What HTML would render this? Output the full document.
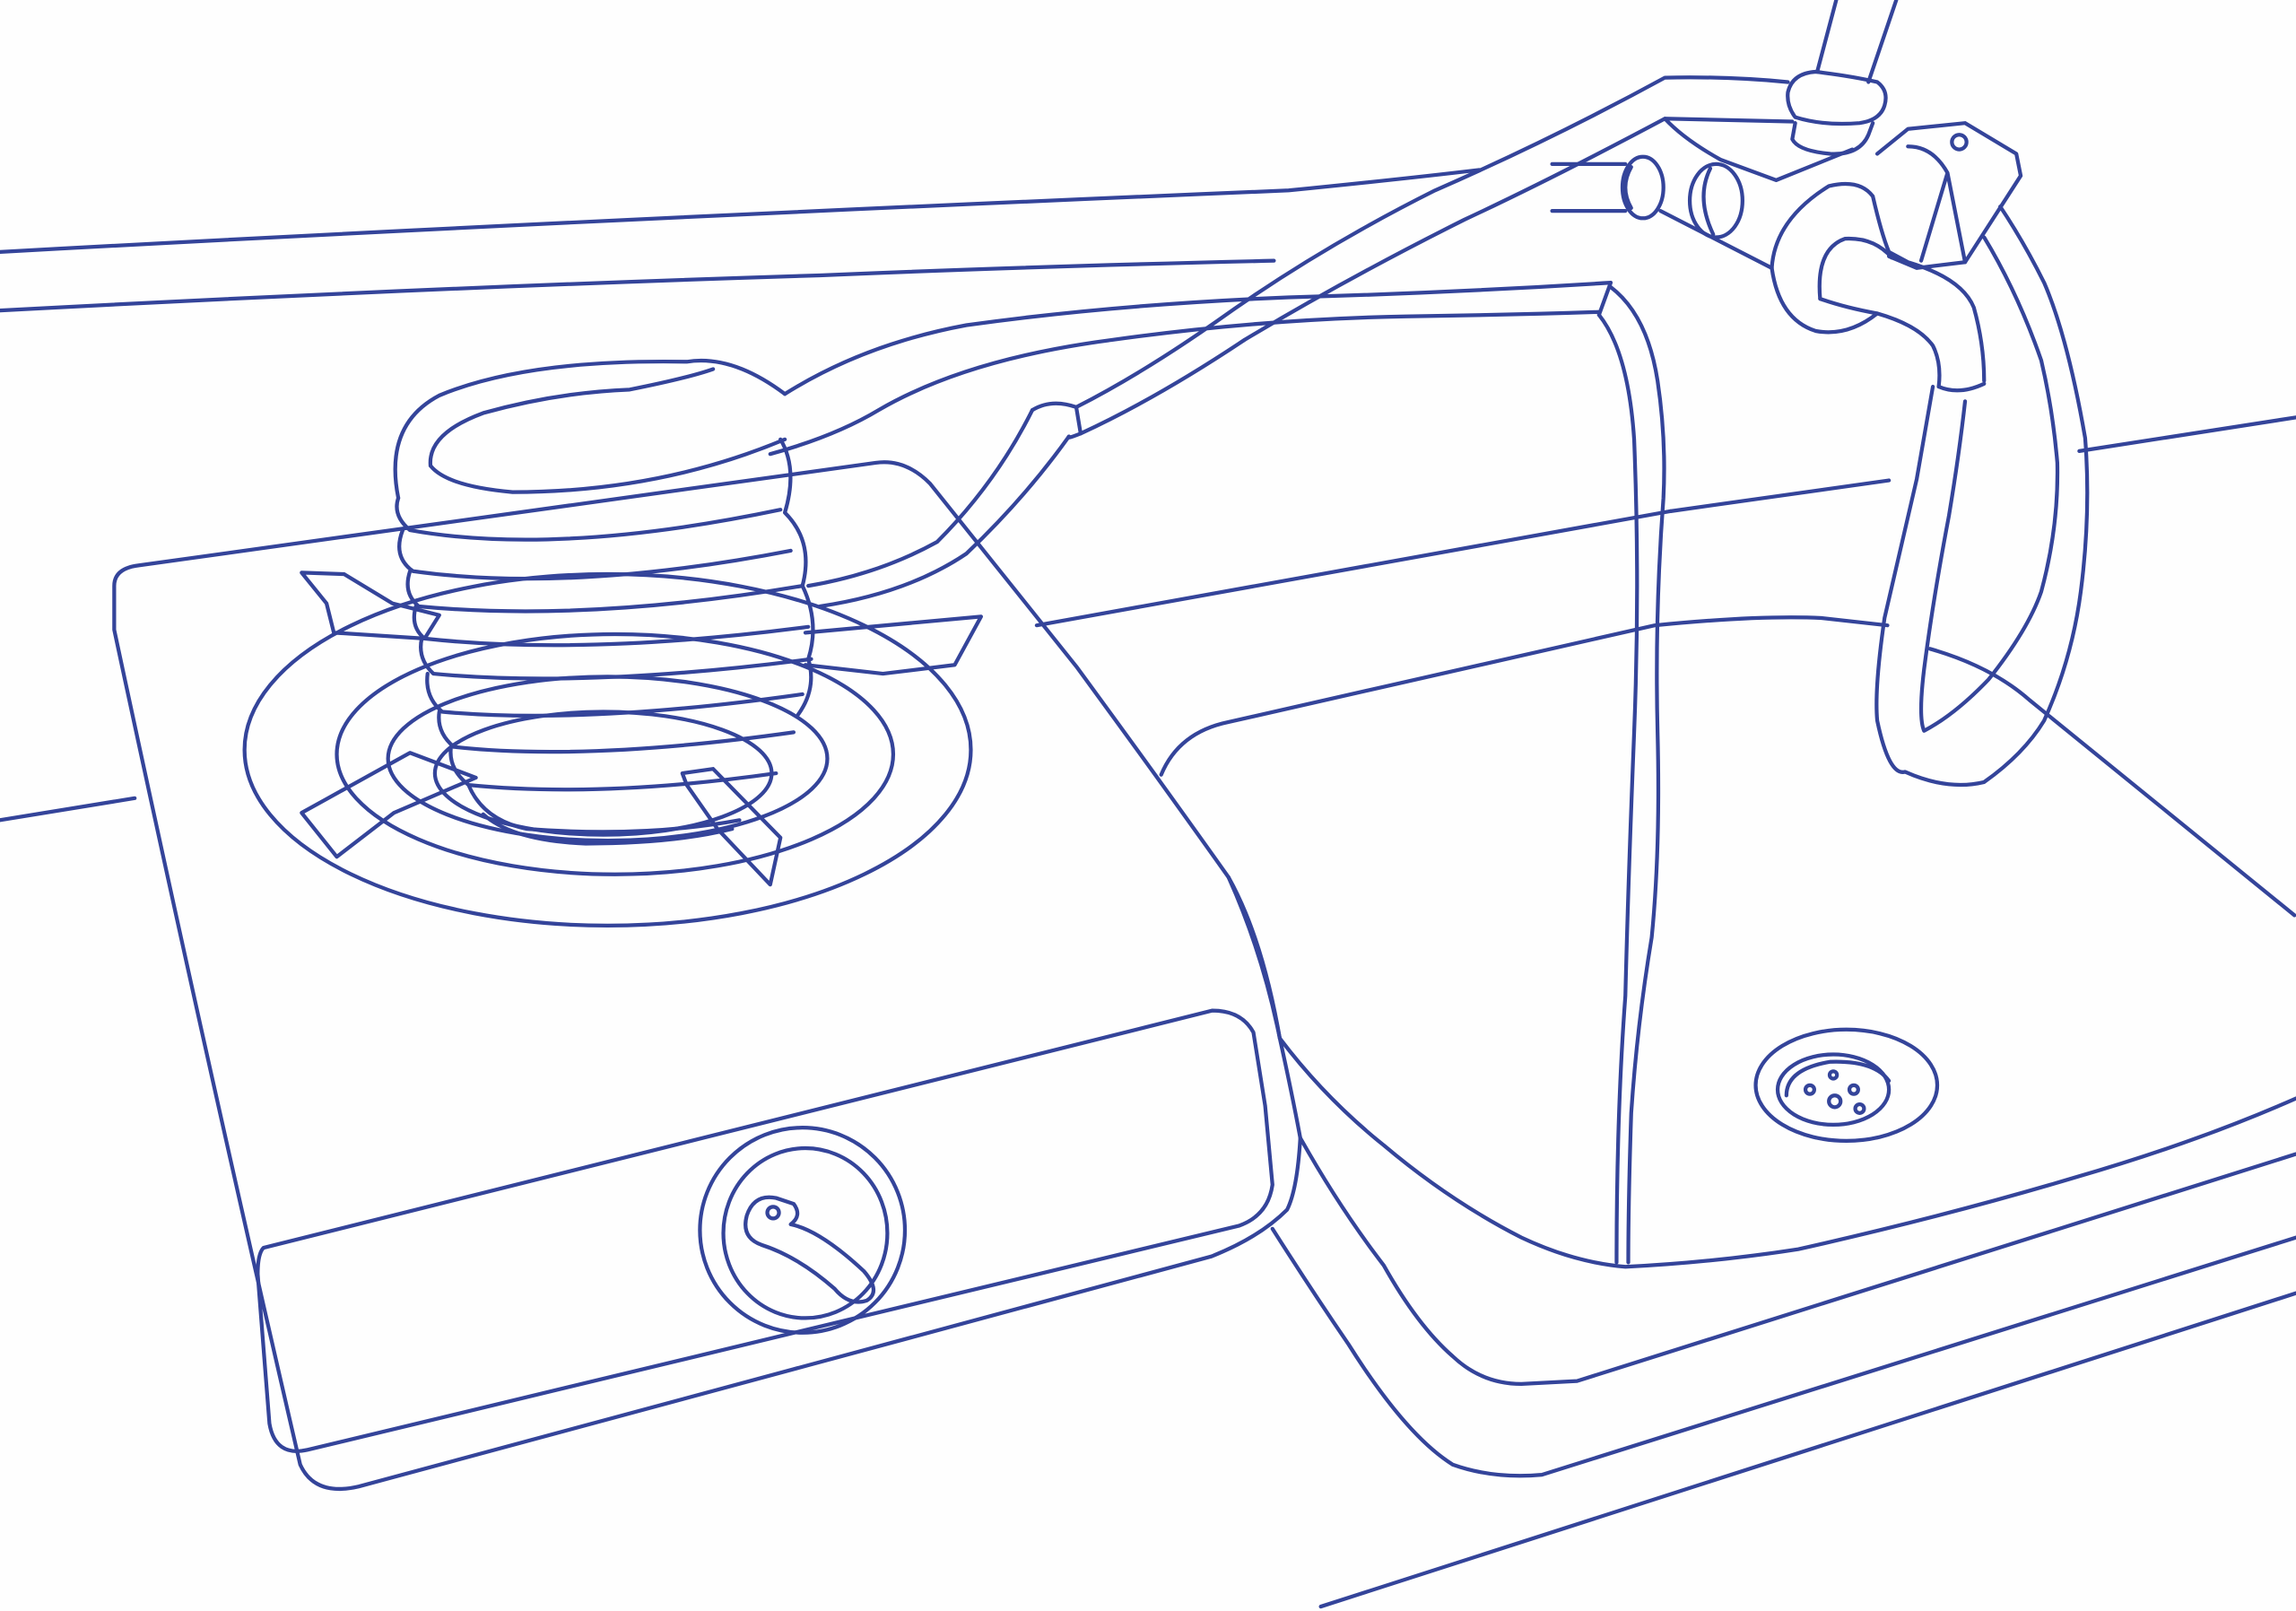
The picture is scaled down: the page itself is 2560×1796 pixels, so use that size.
<!DOCTYPE html>
<html><head><meta charset="utf-8"><style>
html,body{margin:0;padding:0;background:#fff}
svg{display:block}
</style></head><body>
<svg width="2560" height="1796" viewBox="0 0 1568 1100" xmlns="http://www.w3.org/2000/svg">
<rect width="1568" height="1100" fill="#fefefe"/>
<g fill="none" stroke="#34449a" stroke-width="2.6" stroke-linecap="round" stroke-linejoin="round">
<!-- wall / counter lines -->
<path d="M0,172 Q400,150 880,130 Q960,122 1010,116"/>
<path d="M0,212 Q300,196 560,188 Q700,182 870,178"/>
<path d="M0,560 L92,545"/>
<path d="M708,427 L1141,349"/>
<path d="M1141,349 L1290,328"/>
<path d="M1420,308 L1568,285"/>
<!-- stove body -->
<path d="M78,400 Q78,388 95,386 L598,316 Q618,313 635,330 L735,455 Q790,530 839,599 Q862,640 874,709 Q882,745 888,777 Q886,812 879,826 Q860,845 827,858 L245,1015 Q215,1022 205,1000 Q140,720 78,430 Z"/>
<!-- front panel -->
<path d="M180,852 L828,690 Q848,690 856,705 L864,755 L869,809 Q866,830 846,837 L210,990 Q188,995 184,972 L176,870 Q176,856 180,852 Z"/>
<!-- knob -->
<ellipse cx="548" cy="840" rx="70" ry="70"/>
<ellipse cx="550" cy="842" rx="56" ry="58"/>
<path d="M510,830 Q515,815 530,818 L542,822 Q548,830 540,836 Q560,840 590,868 Q602,882 592,888 Q580,892 570,880 Q545,858 520,850 Q506,845 510,830 Z"/>
<circle cx="528" cy="828" r="4"/>
<!-- burner -->
<ellipse cx="415" cy="512" rx="248" ry="120"/>
<ellipse cx="420" cy="515" rx="190" ry="82"/>
<ellipse cx="415" cy="518" rx="150" ry="56"/>
<ellipse cx="412" cy="528" rx="115" ry="42"/>
<!-- grates -->
<path d="M206,391 L235,392 L268,412 L300,420 L290,436 L228,432 L223,412 Z"/>
<path d="M550,432 L670,421 L652,454 L603,460 L550,454"/>
<path d="M206,555 L280,514 L325,531 L269,555 L230,585 Z"/>
<path d="M466,528 L487,525 L533,572 L526,604 L490,566 L469,536 Z"/>
<!-- coil stack -->
<path d="M272,340 Q262,290 300,270 Q360,245 469,247 Q500,242 536,269"/>
<path d="M294,318 Q292,296 330,282 Q380,268 430,266 Q470,258 487,252"/>
<path d="M294,318 Q305,332 350,336 Q450,336 536,300"/>
<path d="M272,340 Q268,352 280,362 Q380,380 533,348"/>
<path d="M275,362 Q268,380 282,390 Q390,405 540,376"/>
<path d="M280,390 Q275,405 286,414 Q400,425 548,400"/>
<path d="M284,414 Q280,428 290,436 Q400,448 552,428"/>
<path d="M288,436 Q285,450 296,460 Q400,470 554,450"/>
<path d="M292,460 Q290,476 302,486 Q400,495 548,474"/>
<path d="M300,486 Q298,500 310,510 Q400,520 542,500"/>
<path d="M308,510 Q306,525 320,536 Q410,545 530,528"/>
<path d="M320,536 Q330,560 360,566 Q440,572 505,560"/>
<path d="M330,556 Q350,574 400,576 Q460,576 500,566"/>
<path d="M533,300 Q545,320 536,350 M536,350 Q556,370 548,400 M548,400 Q560,425 552,450 M552,450 Q558,470 545,488"/>
<!-- hose from coil (upper) -->
<path d="M536,269 Q590,235 660,222 Q760,208 880,203 Q990,200 1100,193"/>
<path d="M526,310 Q570,298 600,280 Q660,245 760,232 Q860,218 960,216 Q1030,215 1092,213"/>
<path d="M1100,193 L1092,215"/>
<!-- hose lower -> joint -> faucet -->
<path d="M552,400 Q600,392 640,370 Q680,330 705,280"/>
<path d="M560,414 Q620,405 660,378 Q700,340 730,298"/>
<path d="M705,280 Q718,272 735,278 L738,296 Q728,300 730,298"/>
<path d="M735,278 Q780,255 830,220 Q900,170 980,130 Q1060,95 1137,53 Q1180,52 1221,56"/>
<path d="M738,296 Q790,272 850,232 Q920,190 1000,150 Q1060,122 1137,81 Q1180,82 1224,83"/>
<!-- water stream -->
<path d="M1100,196 Q1125,215 1132,260 Q1138,300 1136,340 Q1130,420 1132,500 Q1134,580 1128,640 Q1118,700 1114,760 Q1112,820 1112,862"/>
<path d="M1092,215 Q1112,240 1116,300 Q1120,400 1116,500 Q1112,600 1110,680 Q1104,760 1104,862"/>
<!-- sink -->
<path d="M793,529 Q805,500 839,493 L1130,427 Q1200,420 1244,422 L1289,427"/>
<path d="M1318,443 Q1360,455 1386,478 L1567,625"/>
<path d="M839,599 Q862,650 874,709 Q905,750 945,782 Q990,820 1039,845 Q1075,862 1110,865 Q1170,862 1228,853 Q1330,830 1417,804 Q1500,780 1568,750"/>
<path d="M888,777 Q915,825 945,864 Q968,905 992,926 Q1012,945 1039,945 L1077,943 L1568,788"/>
<path d="M869,839 Q895,880 921,918 Q960,980 992,1000 Q1020,1010 1053,1007 L1568,845"/>
<path d="M902,1097 L1568,883"/>
<!-- drain -->
<ellipse cx="1261" cy="741" rx="62" ry="38"/>
<ellipse cx="1252" cy="744" rx="38" ry="24"/>
<path d="M1220,748 Q1220,730 1250,725 Q1280,724 1290,738"/>
<circle cx="1236" cy="744" r="3"/><circle cx="1253" cy="752" r="4"/><circle cx="1266" cy="744" r="3"/><circle cx="1270" cy="757" r="3"/><circle cx="1252" cy="734" r="2.5"/>
<!-- faucet vertical pipe + collar -->
<path d="M1254,0 L1241,49 M1295,0 L1276,56"/>
<path d="M1221,63 Q1224,50 1240,49 Q1265,52 1282,56 Q1290,62 1287,72 Q1284,82 1270,84 Q1245,86 1226,80 Q1220,72 1221,63 Z"/>
<path d="M1226,84 L1224,95 Q1228,103 1250,105 Q1270,106 1276,92 L1279,84"/>
<!-- small pipe and nuts -->
<path d="M1060,112 L1110,112 M1060,144 L1110,144"/>
<ellipse cx="1122" cy="128" rx="14" ry="21"/>
<path d="M1114,114 Q1106,128 1114,142"/>
<ellipse cx="1172" cy="137" rx="18" ry="25"/>
<path d="M1168,115 Q1158,135 1170,160"/>
<path d="M1137,81 Q1150,95 1175,109 L1213,123 L1265,102"/>
<path d="M1134,144 L1210,183"/>
<!-- elbow spout -->
<path d="M1210,183 Q1212,150 1249,127 Q1270,122 1279,134 Q1285,160 1290,172 L1303,179 Q1340,190 1348,210 Q1355,235 1355,260"/>
<path d="M1243,204 Q1240,170 1260,163 Q1280,162 1292,176"/>
<path d="M1243,204 Q1260,210 1282,214 Q1310,222 1320,236 Q1326,248 1324,264"/>
<path d="M1210,183 Q1215,218 1240,226 Q1262,230 1282,214"/>
<path d="M1324,264 Q1338,270 1355,262"/>
<!-- handle -->
<path d="M1282,105 L1303,88 L1342,84 L1377,105 L1380,120 L1342,179 L1309,183 L1290,175"/>
<path d="M1303,100 Q1320,100 1330,118 L1312,178 M1330,118 L1342,179"/>
<circle cx="1338" cy="97" r="5"/>
<!-- hose loop -->
<path d="M1320,264 L1309,327 Q1298,375 1287,422 Q1280,470 1282,492 Q1290,530 1301,527 Q1330,540 1355,534 Q1382,515 1396,492 Q1415,450 1421,404 Q1428,350 1424,299 Q1412,230 1396,193 Q1382,165 1366,141"/>
<path d="M1342,274 Q1338,310 1331,352 Q1320,410 1314,457 Q1310,490 1314,499 Q1335,488 1358,464 Q1385,430 1394,404 Q1406,360 1405,316 Q1402,280 1394,246 Q1378,200 1355,162"/>
</g>
</svg>
</body></html>
